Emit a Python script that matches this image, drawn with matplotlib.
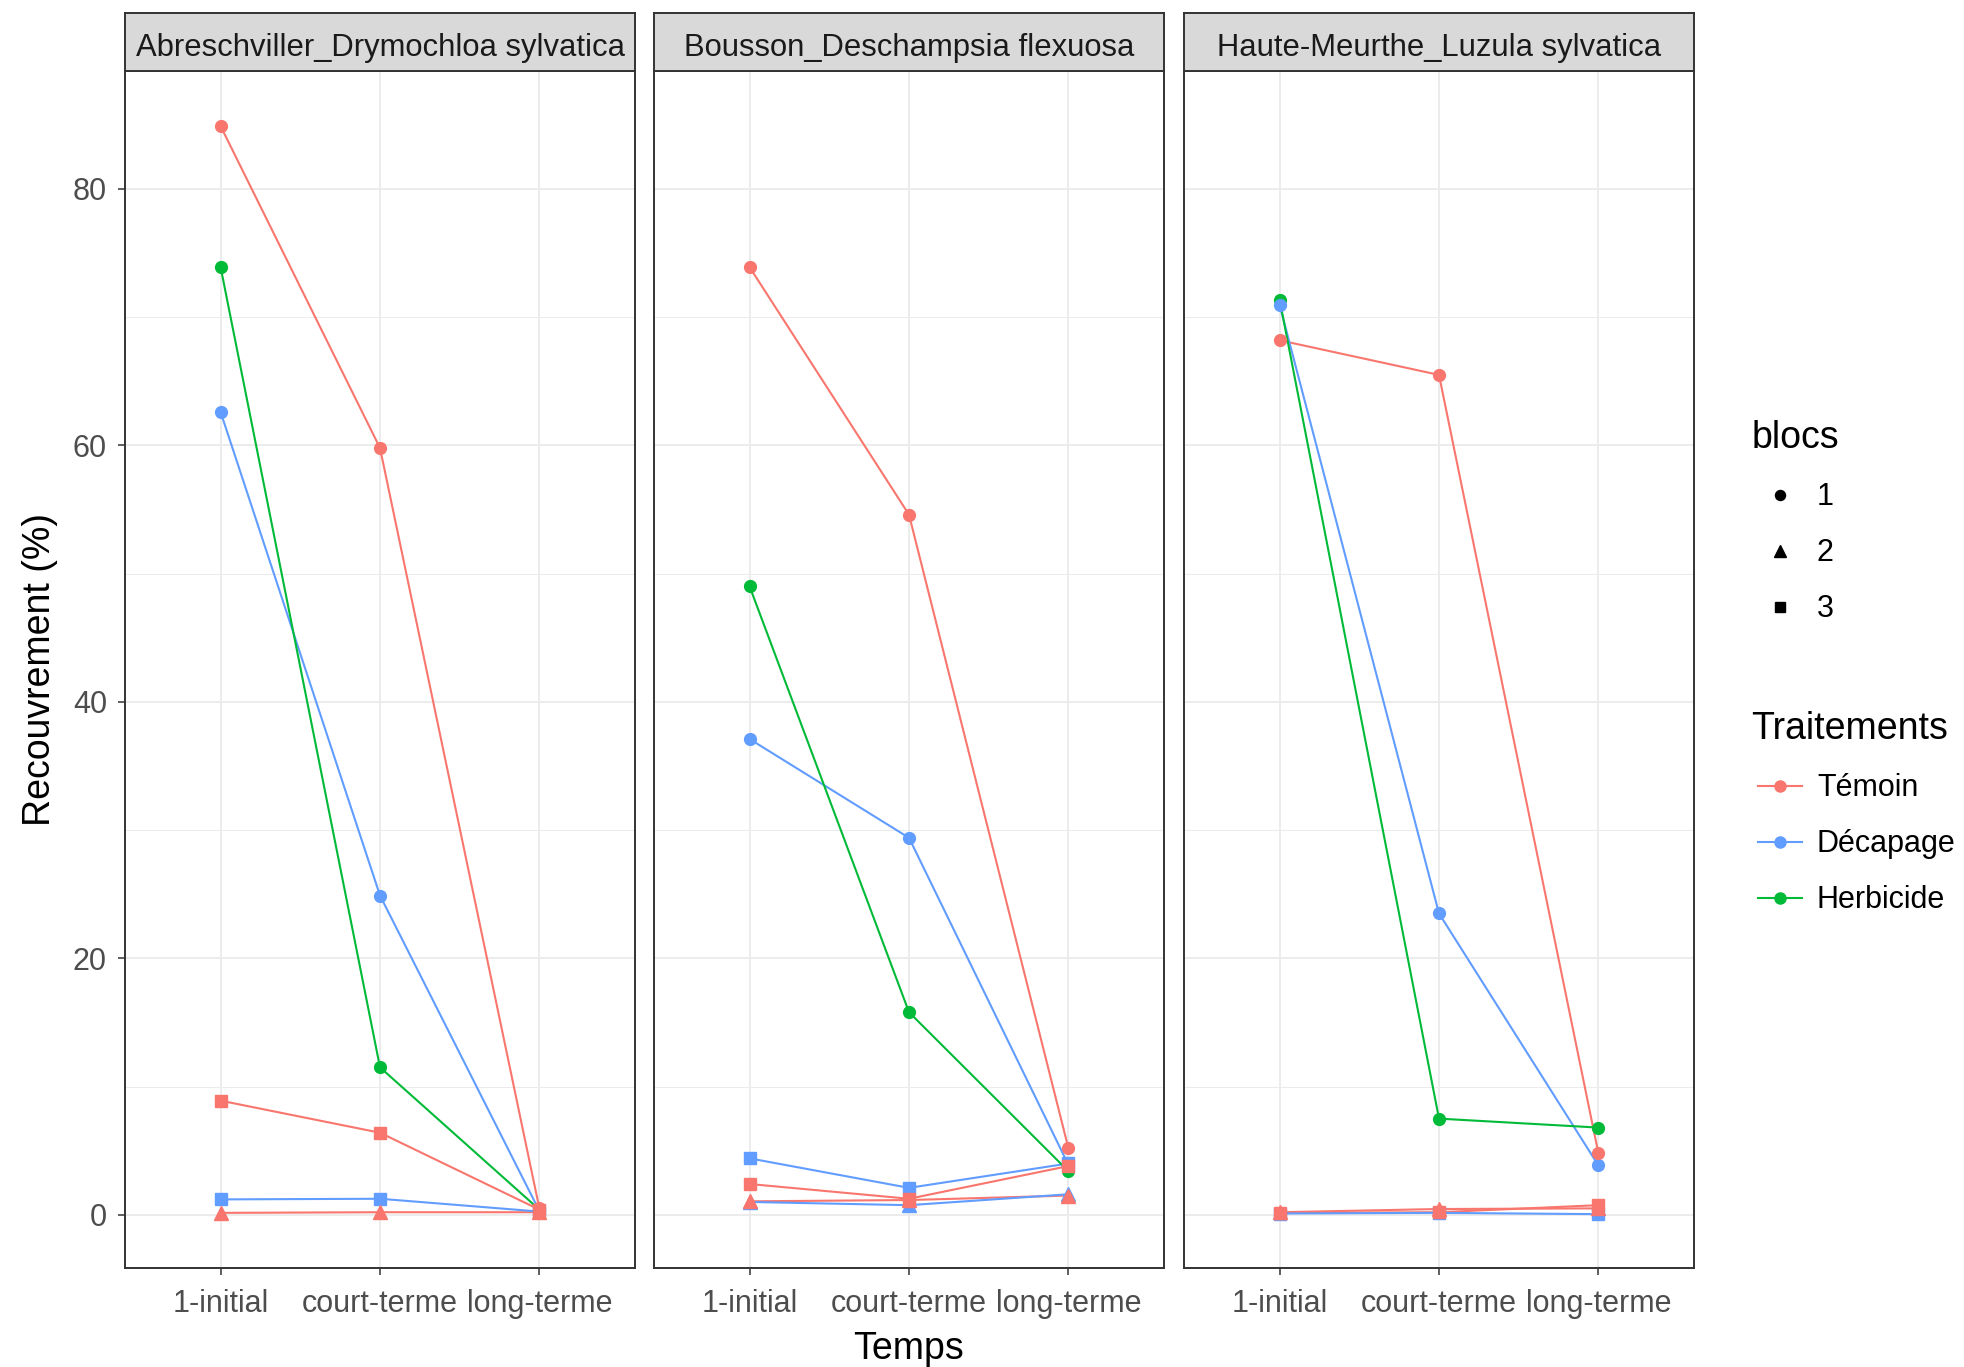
import matplotlib
matplotlib.use("Agg")
import matplotlib.pyplot as plt
from matplotlib.lines import Line2D
from matplotlib.legend_handler import HandlerLine2D
from matplotlib.ticker import MultipleLocator

plt.rcParams['font.family'] = ['Liberation Sans', 'DejaVu Sans']

# ---------------- data ----------------
sites = ["Abreschviller_Drymochloa sylvatica",
         "Bousson_Deschampsia flexuosa",
         "Haute-Meurthe_Luzula sylvatica"]
temps = ["1-initial", "court-terme", "long-terme"]
traitements = ["Témoin", "Décapage", "Herbicide"]
blocs = ["1", "2", "3"]

# Abreschviller
abr_temoin_b1 = [84.9, 59.8, 0.5]
abr_temoin_b2 = [0.15, 0.2, 0.2]
abr_temoin_b3 = [8.9, 6.4, 0.4]
abr_decap_b1 = [62.6, 24.9, 0.3]
abr_decap_b3 = [1.2, 1.25, 0.25]
abr_herb_b1 = [73.9, 11.5, 0.4]

# Bousson
bou_temoin_b1 = [73.9, 54.6, 5.2]
bou_temoin_b2 = [1.05, 1.15, 1.5]
bou_temoin_b3 = [2.4, 1.25, 3.8]
bou_decap_b1 = [37.1, 29.4, 3.9]
bou_decap_b2 = [1.0, 0.75, 1.6]
bou_decap_b3 = [4.4, 2.1, 4.0]
bou_herb_b1 = [49.0, 15.8, 3.4]

# Haute-Meurthe
hm_temoin_b1 = [68.2, 65.5, 4.8]
hm_temoin_b2 = [0.2, 0.45, 0.5]
hm_temoin_b3 = [0.15, 0.2, 0.75]
hm_decap_b1 = [70.95, 23.5, 3.85]
hm_decap_b3 = [0.1, 0.15, 0.05]
hm_herb_b1 = [71.35, 7.5, 6.8]

series = {
    sites[0]: [("Témoin", "1", abr_temoin_b1), ("Témoin", "2", abr_temoin_b2),
               ("Témoin", "3", abr_temoin_b3), ("Décapage", "1", abr_decap_b1),
               ("Décapage", "3", abr_decap_b3), ("Herbicide", "1", abr_herb_b1)],
    sites[1]: [("Témoin", "1", bou_temoin_b1), ("Témoin", "2", bou_temoin_b2),
               ("Témoin", "3", bou_temoin_b3), ("Décapage", "1", bou_decap_b1),
               ("Décapage", "2", bou_decap_b2), ("Décapage", "3", bou_decap_b3),
               ("Herbicide", "1", bou_herb_b1)],
    sites[2]: [("Témoin", "1", hm_temoin_b1), ("Témoin", "2", hm_temoin_b2),
               ("Témoin", "3", hm_temoin_b3), ("Décapage", "1", hm_decap_b1),
               ("Décapage", "3", hm_decap_b3), ("Herbicide", "1", hm_herb_b1)],
}

colors = {"Témoin": "#F8766D", "Décapage": "#619CFF", "Herbicide": "#00BA38"}
markers = {"1": "o", "2": "^", "3": "s"}
msizes = {"1": 8.5, "2": 9.5, "3": 8.3}


class ShiftedHandler(HandlerLine2D):
    """Legend key shifted slightly to the right (ggplot-like key inset)."""
    def __init__(self, shift=4.5, **kw):
        super().__init__(**kw)
        self.shift = shift

    def create_artists(self, legend, orig_handle, xdescent, ydescent,
                       width, height, fontsize, trans):
        return super().create_artists(legend, orig_handle, xdescent - self.shift,
                                      ydescent, width, height, fontsize, trans)


# ---------------- figure ----------------
W, H = 1964, 1367
fig = plt.figure(figsize=(W / 100, H / 100), dpi=100)

panel_left_px = [125, 654, 1184]
panel_w_px = 510
top_px, bottom_px, strip_top_px = 71, 1268, 12.5

border_col = "#333333"
tick_col = "#4D4D4D"

axes = []
for i, site in enumerate(sites):
    l = panel_left_px[i] / W
    b = 1 - bottom_px / H
    w = panel_w_px / W
    h = (bottom_px - top_px) / H
    ax = fig.add_axes([l, b, w, h])
    axes.append(ax)
    x = list(range(len(temps)))
    # lines
    for trt, bl, vals in series[site]:
        ax.plot(x, vals, color=colors[trt], lw=1.5, zorder=3,
                solid_capstyle="butt")
    # points (reverse order so Témoin on top)
    for trt, bl, vals in reversed(series[site]):
        ax.plot(x, vals, linestyle="none", marker=markers[bl],
                ms=msizes[bl], color=colors[trt], mec=colors[trt], zorder=4)
    ax.set_xlim(-0.6, 2.6)
    ax.set_ylim(-4.15, 89.2)
    ax.set_xticks(x)
    ax.set_xticklabels(temps)
    ax.yaxis.set_major_locator(MultipleLocator(20))
    ax.yaxis.set_minor_locator(MultipleLocator(10))
    ax.grid(True, which="major", color="#EBEBEB", lw=1.3, zorder=0)
    ax.grid(True, which="minor", axis="y", color="#EBEBEB", lw=0.7, zorder=0)
    ax.set_axisbelow(True)
    for sp in ax.spines.values():
        sp.set_color(border_col)
        sp.set_linewidth(1.4)
    ax.tick_params(axis="both", which="major", length=5, width=1.1,
                   color=border_col, labelcolor=tick_col, labelsize=22)
    ax.tick_params(axis="x", which="major", pad=10)
    ax.tick_params(axis="y", which="major", pad=8)
    ax.tick_params(axis="y", which="minor", length=0)
    if i > 0:
        ax.tick_params(axis="y", which="major", length=0, labelleft=False)

    # strip
    sax = fig.add_axes([l, 1 - top_px / H, w, (top_px - strip_top_px) / H])
    sax.set_facecolor("#D9D9D9")
    sax.set_xticks([])
    sax.set_yticks([])
    for sp in sax.spines.values():
        sp.set_color(border_col)
        sp.set_linewidth(1.4)
    sax.text(0.5, 0.40, site, ha="center", va="center", fontsize=22.3,
             color="#1A1A1A", transform=sax.transAxes)

axes[0].set_ylabel("Recouvrement (%)", fontsize=27, color="black", labelpad=11)
fig.text(908 / W, 1 - 1349 / H, "Temps", ha="center", va="center", fontsize=27)

# ---------------- legends ----------------
bloc_handles = [Line2D([], [], linestyle="none", marker=markers[b], color="black",
                       ms=msizes[b] * 0.85) for b in blocs]
leg1 = fig.legend(bloc_handles, blocs, title="blocs", loc="upper left",
                  bbox_to_anchor=(1736 / W, 1 - 405 / H), frameon=False,
                  fontsize=22, title_fontsize=27, handlelength=1.45,
                  handletextpad=0.7, labelspacing=0.85, borderpad=0,
                  alignment="left",
                  handler_map={Line2D: ShiftedHandler(shift=4.5)})
trt_handles = [Line2D([], [], color=colors[t], lw=1.5, marker="o", ms=8)
               for t in traitements]
leg2 = fig.legend(trt_handles, traitements, title="Traitements", loc="upper left",
                  bbox_to_anchor=(1736 / W, 1 - 696 / H), frameon=False,
                  fontsize=22, title_fontsize=27, handlelength=1.45,
                  handletextpad=0.7, labelspacing=0.85, borderpad=0,
                  alignment="left",
                  handler_map={Line2D: ShiftedHandler(shift=4.5)})

fig.savefig("out.png", dpi=100, facecolor="white")
